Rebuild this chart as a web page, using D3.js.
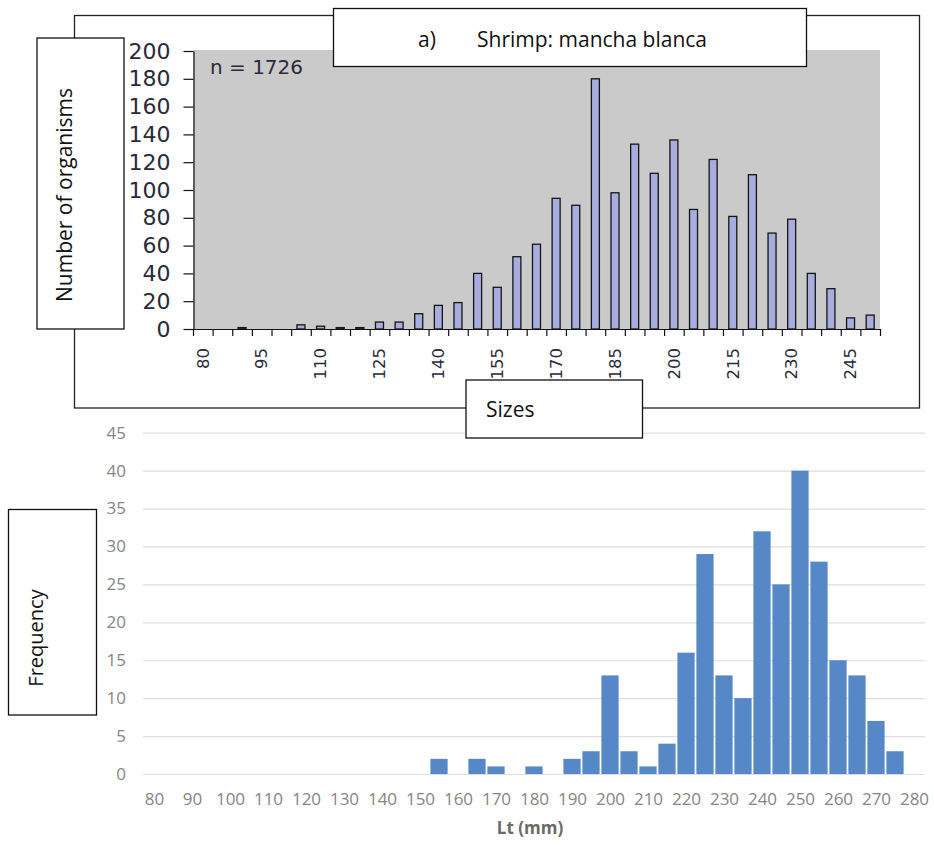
<!DOCTYPE html>
<html>
<head>
<meta charset="utf-8">
<script src="https://cdn.jsdelivr.net/npm/d3@7"></script>
<style>
  body { margin: 0; background: #fff; }
  svg { display: block; }
</style>
</head>
<body>
<svg id="chart" width="934" height="845"></svg>
<script>
// ---- data: top panel (a) shrimp sizes, 5 mm classes
var sizeBins = [80, 85, 90, 95, 100, 105, 110, 115, 120, 125, 130, 135, 140, 145, 150, 155, 160, 165,
                170, 175, 180, 185, 190, 195, 200, 205, 210, 215, 220, 225, 230, 235, 240, 245, 250];
var organismCounts = [0, 0, 1, 0, 0, 3, 2, 1, 1, 5, 5, 11, 17, 19, 40, 30, 52, 61,
                      94, 89, 180, 98, 133, 112, 136, 86, 122, 81, 111, 69, 79, 40, 29, 8, 10];
var countTicks = [0, 20, 40, 60, 80, 100, 120, 140, 160, 180, 200];
var sizeLabels = [80, 95, 110, 125, 140, 155, 170, 185, 200, 215, 230, 245];

// ---- data: bottom panel, Lt (mm) histogram
var ltBins = [155, 165, 170, 180, 190, 195, 200, 205, 210, 215, 220,
              225, 230, 235, 240, 245, 250, 255, 260, 265, 270, 275];
var ltFreq = [2, 2, 1, 1, 2, 3, 13, 3, 1, 4, 16,
              29, 13, 10, 32, 25, 40, 28, 15, 13, 7, 3];
var freqTicks = [0, 5, 10, 15, 20, 25, 30, 35, 40, 45];
var ltTicks = [80, 90, 100, 110, 120, 130, 140, 150, 160, 170, 180,
               190, 200, 210, 220, 230, 240, 250, 260, 270, 280];

var svg = d3.select('#chart');
var ink = '#2a2a38';
var boxFont = '"Open Sans", sans-serif';

// ================= top panel =================
var xTop = d3.scaleBand().domain(sizeBins).range([193, 880]);
var yTop = d3.scaleLinear().domain([0, 200]).range([329, 51]);
var bw = xTop.bandwidth();

// frame round the whole panel
svg.append('rect')
    .attr('x', 74.5).attr('y', 15.5)
    .attr('width', 845).attr('height', 392.5)
    .attr('fill', 'none').attr('stroke', '#222').attr('stroke-width', 1.3);

// grey plot area
svg.append('rect')
    .attr('x', 193).attr('y', 50)
    .attr('width', 687).attr('height', 279)
    .attr('fill', '#cacaca');

svg.append('g').selectAll('rect')
    .data(organismCounts.map(function(v, i) { return {size: sizeBins[i], n: v}; })
        .filter(function(d) { return d.n > 0; }))
    .enter().append('rect')
    .attr('x', function(d) { return xTop(d.size) + (bw - 8) / 2; })
    .attr('width', 8)
    .attr('y', function(d) { return yTop(d.n); })
    .attr('height', function(d) { return yTop(0) - yTop(d.n); })
    .attr('fill', '#a9acdf')
    .attr('stroke', '#151515')
    .attr('stroke-width', 1.3);

// y axis
var yAxisTop = svg.append('g')
    .attr('transform', 'translate(193.5,0)')
    .call(d3.axisLeft(yTop).tickValues(countTicks).tickSize(10).tickSizeOuter(0).tickPadding(13));
yAxisTop.selectAll('path, line').attr('stroke', '#111').attr('stroke-width', 1.2);
yAxisTop.selectAll('text')
    .attr('font-family', '"DejaVu Sans", sans-serif')
    .attr('font-size', 22)
    .attr('fill', ink);

// x axis: ticks on class edges, rotated labels every third class
svg.append('line')
    .attr('x1', 193).attr('x2', 880)
    .attr('y1', 329.5).attr('y2', 329.5)
    .attr('stroke', '#111').attr('stroke-width', 1.2);
svg.append('g').selectAll('line')
    .data(d3.range(sizeBins.length + 1))
    .enter().append('line')
    .attr('x1', function(i) { return 193.5 + i * xTop.step(); })
    .attr('x2', function(i) { return 193.5 + i * xTop.step(); })
    .attr('y1', 329).attr('y2', 336)
    .attr('stroke', '#111').attr('stroke-width', 1.2);
svg.append('g').selectAll('text')
    .data(sizeLabels)
    .enter().append('text')
    .attr('transform', function(d) {
        return 'translate(' + (xTop(d) + bw / 2) + ',348) rotate(-90)';
    })
    .attr('dy', '0.35em')
    .attr('text-anchor', 'end')
    .attr('font-family', '"DejaVu Sans", sans-serif')
    .attr('font-size', 16.5)
    .attr('fill', ink)
    .text(function(d) { return d; });

svg.append('text')
    .attr('x', 210).attr('y', 74)
    .attr('font-family', '"DejaVu Sans", sans-serif')
    .attr('font-size', 20)
    .attr('fill', ink)
    .text('n = 1726');

// ================= bottom panel =================
var xBot = d3.scaleLinear().domain([80, 280]).range([154, 914]);
var yBot = d3.scaleLinear().domain([0, 45]).range([774, 432.7]);

var yAxisBot = svg.append('g')
    .attr('transform', 'translate(143,0)')
    .call(d3.axisLeft(yBot).tickValues(freqTicks).tickSize(-782).tickPadding(17));
yAxisBot.select('.domain').remove();
yAxisBot.selectAll('line').attr('stroke', '#dedede').attr('stroke-width', 1.2);
yAxisBot.selectAll('text')
    .attr('font-family', boxFont)
    .attr('font-size', 17)
    .attr('fill', '#858585');

svg.append('g').selectAll('rect')
    .data(ltFreq.map(function(v, i) { return {lt: ltBins[i], f: v}; }))
    .enter().append('rect')
    .attr('x', function(d) { return xBot(d.lt) - 8.6; })
    .attr('width', 17.2)
    .attr('y', function(d) { return yBot(d.f); })
    .attr('height', function(d) { return yBot(0) - yBot(d.f); })
    .attr('fill', '#5687c6');

var xAxisBot = svg.append('g')
    .attr('transform', 'translate(0,774)')
    .call(d3.axisBottom(xBot).tickValues(ltTicks).tickSize(0).tickPadding(19));
xAxisBot.select('.domain').remove();
xAxisBot.selectAll('text')
    .attr('font-family', boxFont)
    .attr('font-size', 17)
    .attr('fill', '#858585');

svg.append('text')
    .attr('x', 530).attr('y', 834)
    .attr('text-anchor', 'middle')
    .attr('font-family', boxFont)
    .attr('font-size', 17)
    .attr('font-weight', 'bold')
    .attr('fill', '#6a6a6a')
    .text('Lt (mm)');

// ================= text boxes laid over the charts =================
function box(x, y, w, h) {
    svg.append('rect')
        .attr('x', x).attr('y', y)
        .attr('width', w).attr('height', h)
        .attr('fill', '#fff').attr('stroke', '#111').attr('stroke-width', 1.3);
}

box(333.5, 8.5, 473, 58);
svg.append('text').attr('x', 418).attr('y', 47)
    .attr('font-family', boxFont).attr('font-size', 21).attr('fill', '#111')
    .text('a)');
svg.append('text').attr('x', 477).attr('y', 47)
    .attr('font-family', boxFont).attr('font-size', 21).attr('fill', '#111')
    .text('Shrimp: mancha blanca');

box(37, 38, 87, 291);
svg.append('text')
    .attr('transform', 'translate(72,195) rotate(-90)')
    .attr('text-anchor', 'middle')
    .attr('font-family', boxFont).attr('font-size', 21).attr('fill', '#111')
    .text('Number of organisms');

box(466, 380, 176.5, 58);
svg.append('text').attr('x', 486).attr('y', 417)
    .attr('font-family', boxFont).attr('font-size', 21).attr('fill', '#111')
    .text('Sizes');

box(8.5, 509.5, 88, 205.5);
svg.append('text')
    .attr('transform', 'translate(43,638) rotate(-90)')
    .attr('text-anchor', 'middle')
    .attr('font-family', boxFont).attr('font-size', 20).attr('fill', '#111')
    .text('Frequency');
</script>
</body>
</html>
